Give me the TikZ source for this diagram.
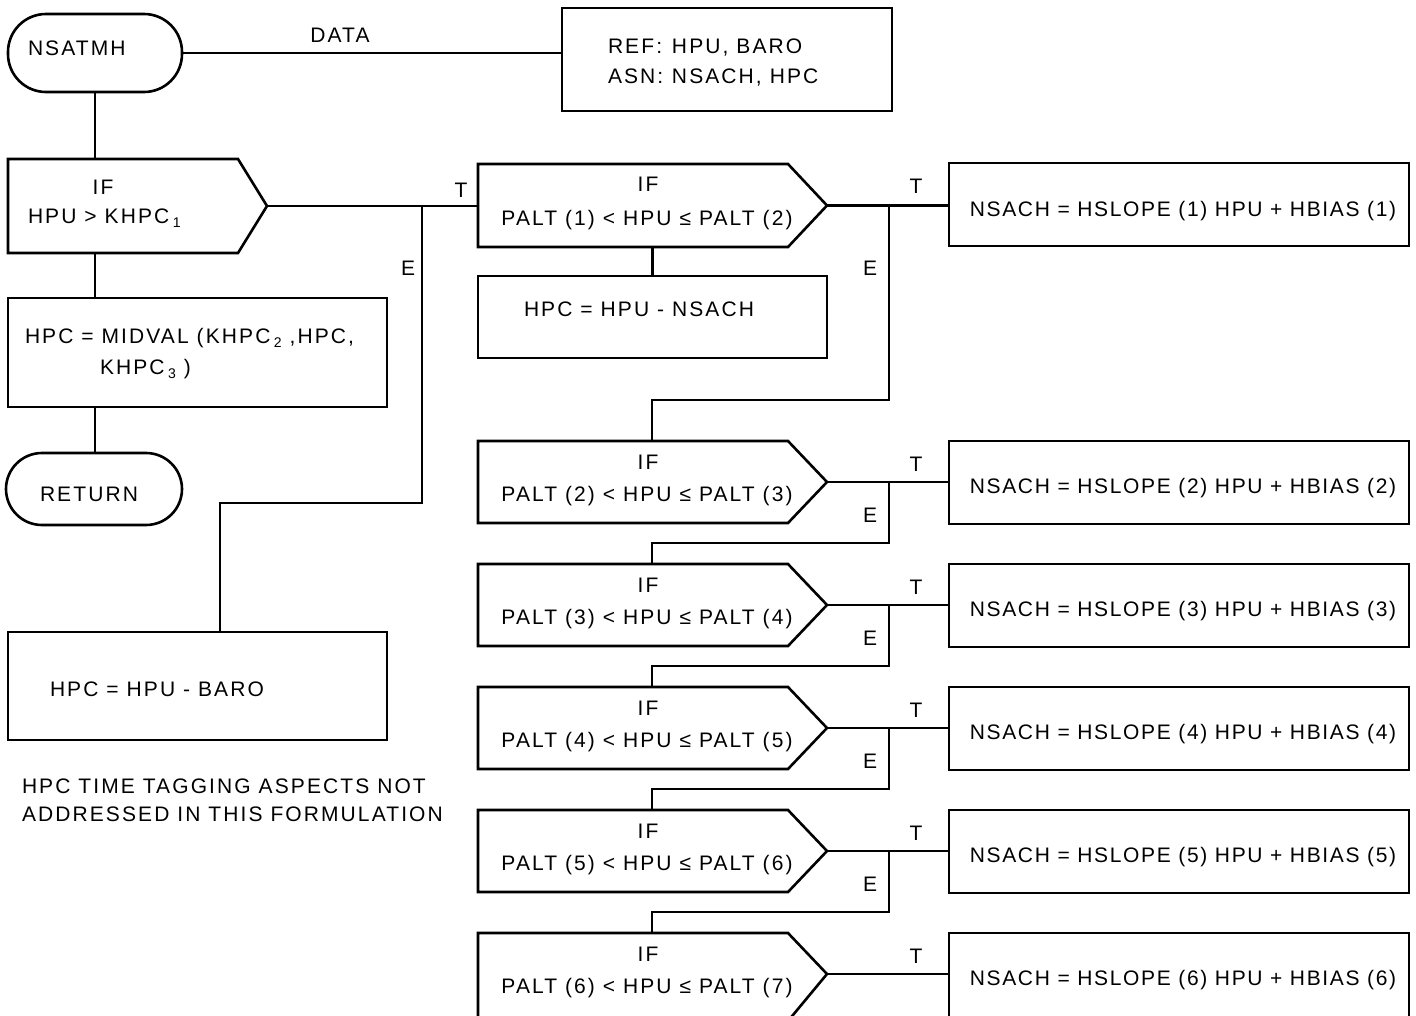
\documentclass[tikz,border=0pt]{standalone}
\usepackage{fontspec}
\setmainfont{Liberation Sans}[LetterSpace=10]
\usetikzlibrary{calc}
\newcommand{\sbs}[1]{\,\raisebox{-4pt}{\fontsize{14}{14}\selectfont #1}}
\begin{document}
\begin{tikzpicture}[x=1pt,y=-1pt,
  every node/.style={inner sep=0pt, outer sep=0pt},
  txt/.style={font=\fontsize{21}{25}\selectfont},
  ttxt/.style={font=\fontsize{21}{25}\selectfont\addfontfeatures{LetterSpace=8}},
  box/.style={draw, line width=2.6pt, rectangle, anchor=north west},
  term/.style={draw, line width=2.6pt, rectangle, anchor=north west},
  body/.style={rectangle, anchor=north west},
  shp/.style={line width=2.6pt, line join=miter},
  conn/.style={line width=2.6pt},
  econn/.style={line width=2.3pt},
]
\useasboundingbox (0,0) rectangle (1416,1015);

% ---------- left column ----------
\node[term, rounded corners=38pt, minimum width=174, minimum height=78] (start) at (8,14) {};
\node[txt, anchor=base west] (startt) at (28,55.5) {NSATMH};
\node[box, minimum width=330, minimum height=103] (ref) at (562,8) {};
\node[txt, anchor=base west] (reft) at (608,53.5) {\makebox[64pt][l]{REF:}HPU, BARO};
\node[txt, anchor=base west] (asnt) at (608,83.5) {\makebox[64pt][l]{ASN:}NSACH, HPC};
\draw[conn] (start.east) -- (start.east -| ref.west);
\node[txt, anchor=base] (datat) at (340,42.5) {DATA};

\node[body, minimum width=230, minimum height=94] (if1) at (8,159) {};
\draw[shp] (if1.north west) -- (if1.north east) -- ($(if1.east)+(29,0)$) coordinate (if1tip)
  -- (if1.south east) -- (if1.south west) -- cycle;
\node[txt, anchor=base] (if1a) at (103,194.5) {IF};
\node[txt, anchor=base west] (if1b) at (28,223.5) {HPU > KHPC\sbs{1}};

\node[box, minimum width=379, minimum height=109] (mid) at (8,298) {};
\node[txt, anchor=base west] (mida) at (25,343.5) {HPC = MIDVAL (KHPC\sbs{2} ,HPC,};
\node[txt, anchor=base west] (midb) at (100,374.5) {KHPC\sbs{3} )};

\node[term, rounded corners=36pt, minimum width=176, minimum height=72] (ret) at (6,453) {};
\node[txt, anchor=base west] (rett) at (40,501.5) {RETURN};

\node[box, minimum width=379, minimum height=108] (baro) at (8,632) {};
\node[txt, anchor=base west] (barot) at (50,696.5) {HPC = HPU - BARO};

\node[txt, anchor=base west] (note1) at (22,793.5) {HPC TIME TAGGING ASPECTS NOT};
\node[txt, anchor=base west] (note2) at (22,821.5) {ADDRESSED IN THIS FORMULATION};

\draw[conn] (start.south) -- (start.south |- if1.north);
\draw[conn] (start.south |- if1.south) -- (start.south |- mid.north);
\draw[conn] (start.south |- mid.south) -- (start.south |- ret.north);

% ---------- row 2 ----------
\coordinate (cx) at (652,0);
\coordinate (ex) at (889,0);
\node[body, minimum width=310, minimum height=83] (if2) at (478,164) {};
\draw[shp] (if2.north west) -- (if2.north east) -- ($(if2.east)+(39,0)$) coordinate (tip2)
  -- (if2.south east) -- (if2.south west) -- cycle;
\node[txt, anchor=base] (if2a) at (648,191.5) {IF};
\node[txt, anchor=base] (if2b) at (647,225.5) {PALT (1) < HPU ≤ PALT (2)};
\node[box, minimum width=349, minimum height=82] (hpcn) at (478,276) {};
\node[txt, anchor=base west] (hpcnt) at (524,316.5) {HPC = HPU - NSACH};
\draw[conn] (hpcn.north |- if2.south) -- (hpcn.north);

\node[box, minimum width=460, minimum height=83] (t2) at (949,163) {};
\node[ttxt, anchor=base] (t2t) at (1183,216.5) {NSACH = HSLOPE (1) HPU + HBIAS (1)};
\draw[conn] (tip2) -- (tip2 -| t2.west);

\draw[conn] (if1tip) -- (if1tip -| if2.west);
\coordinate (e1) at (422,503);
\coordinate (e1b) at (220,503);
\draw[econn] (e1 |- if1tip) -- (e1) -- (e1b) -- (e1b |- baro.north);
\node[txt, anchor=base] (t1l) at (461,197.5) {T};
\node[txt, anchor=base] (e1l) at (408,275.5) {E};
\node[txt, anchor=base] (t2l) at (916,193.5) {T};
\node[txt, anchor=base] (e2l) at (870,275.5) {E};

% ---------- rows 3..7 ----------
\foreach \k/\t/\h/\a/\b in {3/441/82/2/3,4/564/82/3/4,5/687/82/4/5,6/810/82/5/6,7/933/88/6/7} {
  \node[body, minimum width=310, minimum height=\h] (if\k) at (478,\t) {};
  \draw[shp] (if\k.north west) -- (if\k.north east) -- ($(if\k.north east)+(39,41)$) coordinate (tip\k)
    -- (if\k.south east) -- (if\k.south west) -- cycle;
  \node[txt, anchor=base] (if\k a) at (648,\t+28.5) {IF};
  \node[txt, anchor=base] (if\k b) at (647,\t+60.5) {PALT (\a) < HPU ≤ PALT (\b)};
  \node[box, minimum width=460, minimum height=\h+1] (t\k) at (949,\t) {};
  \node[ttxt, anchor=base] (t\k t) at (1183,\t+52.5) {NSACH = HSLOPE (\a) HPU + HBIAS (\a)};
  \draw[conn] (tip\k) -- (tip\k -| t\k.west);
  \node[txt, anchor=base] (t\k l) at (916,\t+30.5) {T};
}
\foreach \k/\n/\ey in {3/4/522.5,4/5/645.5,5/6/768.5,6/7/891.5} {
  \draw[econn] (ex |- tip\k) |- ($(cx |- if\n.north)+(0,-21)$) -- (cx |- if\n.north);
  \node[txt, anchor=base] (e\k l) at (870,\ey) {E};
}
\draw[econn] (ex |- tip2) |- ($(cx |- if3.north)+(0,-41)$) -- (cx |- if3.north);
\end{tikzpicture}
\end{document}
